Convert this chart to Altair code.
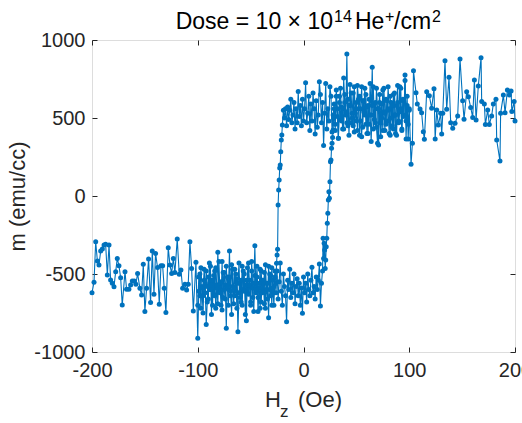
import altair as alt
import pandas as pd

BLUE = "#0072BD"
AX = "#262626"
FONT = "Liberation Sans"

# ---------------- data ----------------
# right sparse section (increasing field)
right_x = [101.7, 103.0, 104.0, 106.4, 107.6, 110.2, 111.7, 113.3, 114.3, 116.5,
           119.0, 121.2, 123.4, 124.5, 126.0, 127.5, 129.7, 130.7, 131.7, 133.8,
           135.4, 137.6, 139.2, 141.1, 143.3, 145.8, 148.0, 150.5, 151.8, 154.3,
           155.9, 158.1, 160.0, 161.6, 163.2, 165.3, 167.9, 168.5, 171.0, 172.0,
           174.2, 175.7, 177.9, 179.5, 182.0, 182.7, 185.8, 186.4, 189.0, 190.6,
           192.8, 194.7, 196.3, 197.0, 199.2, 200.0]
right_m = [203, 338, 803, 662, 590, 558, 534, 412, 363, 669,
           643, 562, 688, 365, 551, 455, 530, 397, 530, 867,
           556, 761, 470, 434, 466, 513, 878, 611, 492, 669,
           637, 568, 504, 744, 487, 705, 887, 605, 590, 459,
           551, 459, 513, 590, 620, 359, 224, 530, 647, 534,
           679, 647, 673, 541, 605, 480]

# descending branch, upper band, field 100 -> -19 Oe (1 Oe steps)
desc_upper_start = 100
desc_upper = [560, 365, 640, 480, 776, 520, 610, 430, 690, 540,
              470, 708, 580, 400, 520, 650, 450, 600, 390, 560,
              700, 480, 620, 420, 540, 680, 500, 380, 600, 327,
              560, 690, 470, 590, 430, 825, 520, 721, 460, 580,
              400, 650, 520, 610, 440, 700, 560, 390, 620, 708,
              480, 560, 410, 660, 530, 470, 714, 580, 450, 910,
              520, 600, 756, 430, 570, 490, 640, 370, 560, 680,
              460, 590, 520, 410, 640, 701, 480, 560, 430, 721,
              530, 323, 600, 470, 650, 733, 520, 440, 610, 397,
              560, 660, 480, 590, 420, 640, 530, 470, 726, 560,
              480, 620, 450, 580, 510, 670, 470, 560, 430, 600,
              520, 470, 620, 550, 490, 570, 450, 560, 500, 550]

# descending switching
desc_tr_x = [-20, -20.5, -21, -21.5, -22, -22.5, -23, -23.5, -24, -24.5, -25, -25.5, -26]
desc_tr_m = [455, 391, 359, 284, 199, 179, 103, 38, -58, -342, -378, -431, -560]

# descending branch, lower band, field -27 -> -100 Oe
desc_lower_start = -27
desc_lower = [-480, -620, -540, -700, -510, -600, -450, -660, -560, -720,
              -490, -610, -540, -680, -470, -590, -740, -520, -620, -319,
              -560, -650, -480, -700, -570, -430, -620, -540, -760, -500,
              -600, -450, -680, -560, -620, -870, -530, -610, -470, -690,
              -580, -440, -640, -353, -600, -520, -848, -570, -490, -650,
              -420, -700, -560, -610, -361, -590, -720, -480, -630, -540,
              -760, -450, -600, -520, -680, -823, -560, -470, -640, -580,
              -720, -500, -610, -912]

# left sparse section (increasing field)
left_x = [-200, -198.1, -196.5, -194.9, -193.4, -191.8, -190.2, -188.6, -187.1, -185.5,
          -183.9, -182.4, -180.8, -179.2, -177.6, -176.1, -174.5, -172.9, -171.4, -168.8,
          -167.3, -165.1, -163.5, -161.9, -160.0, -158.5, -156.9, -154.7, -153.1, -151.5,
          -150.0, -148.4, -146.5, -144.6, -143.0, -141.4, -139.9, -138.0, -136.4, -134.8,
          -133.2, -131.7, -130.1, -127.9, -126.3, -124.7, -123.1, -121.6, -119.4, -117.5,
          -115.9, -114.3, -112.1, -110.5, -109.0, -107.4, -105.8, -104.2, -101.7]
left_m = [-620, -553, -293, -417, -442, -353, -340, -314, -310, -506,
          -314, -539, -560, -581, -485, -400, -447, -524, -699, -485,
          -598, -598, -570, -545, -545, -566, -496, -592, -635, -438,
          -741, -592, -404, -682, -353, -630, -368, -459, -694, -447,
          -447, -592, -746, -331, -442, -496, -400, -491, -276, -502,
          -474, -592, -566, -603, -566, -293, -464, -737, -425]

# ascending branch, lower band, field -100 -> 17 Oe
asc_lower_start = -100
asc_lower = [-700, -520, -640, -460, -590, -750, -540, -620, -480, -580,
             -660, -430, -600, -540, -700, -510, -640, -460, -570, -690,
             -420, -620, -550, -730, -490, -600, -660, -450, -580, -700,
             -520, -610, -760, -470, -590, -640, -500, -720, -560, -430,
             -650, -540, -700, -480, -610, -570, -800, -460, -630, -540,
             -680, -420, -590, -740, -510, -600, -450, -650, -560, -720,
             -480, -620, -540, -690, -440, -600, -560, -780, -500, -640,
             -460, -590, -700, -520, -620, -480, -660, -550, -430, -610,
             -700, -500, -580, -640, -806, -540, -600, -470, -650, -560,
             -620, -500, -690, -580, -530, -640, -560, -700, -590, -752,
             -520, -620, -560, -680, -500, -600, -640, -540, -457, -620,
             -580, -660, -520, -600, -540, -436, -705, -560]

# ascending switching
asc_tr_x = [18, 18.5, 19, 19.5, 20, 20.5, 21, 21.5, 22, 22.5, 23, 23.5,
            24, 24.5, 25, 25.5, 26, 26.5, 27, 27.5, 28, 28.5]
asc_tr_m = [-480, -271, -400, -303, -346, -464, -410, -325, -271, -175, -111, -26,
            28, -15, 92, 220, 231, 306, 338, 375, 423, 500]

# ascending branch, upper band, field 29 -> 100 Oe
asc_upper_start = 29
asc_upper = [560, 420, 640, 510, 370, 600, 690, 480, 560, 430,
             650, 540, 470, 620, 390, 580, 660, 500, 450, 700,
             530, 600, 420, 560, 640, 480, 380, 610, 540, 690,
             460, 570, 400, 620, 520, 350, 580, 700, 490, 600,
             440, 338, 560, 650, 470, 590, 420, 690, 530, 460,
             610, 550, 400, 640, 500, 580, 430, 660, 520, 390,
             600, 480, 700, 560, 420, 620, 510, 740, 365, 580,
             460, 550]

x_ticks = [-200, -100, 0, 100, 200]
y_ticks = [-1000, -500, 0, 500, 1000]

assert len(right_x) == len(right_m)
assert len(left_x) == len(left_m)
assert len(desc_tr_x) == len(desc_tr_m)
assert len(asc_tr_x) == len(asc_tr_m)

# ---------------- build table ----------------
rows = []


def add(branch, xs, ms):
    for xv, mv in zip(xs, ms):
        rows.append({"H": xv, "m": mv, "branch": branch, "i": len(rows)})


add("down", list(reversed(right_x)), list(reversed(right_m)))
add("down", [desc_upper_start - k for k in range(len(desc_upper))], desc_upper)
add("down", desc_tr_x, desc_tr_m)
add("down", [desc_lower_start - k for k in range(len(desc_lower))], desc_lower)
add("down", list(reversed(left_x)), list(reversed(left_m)))
add("up", [asc_lower_start + k for k in range(len(asc_lower))], asc_lower)
add("up", asc_tr_x, asc_tr_m)
add("up", [asc_upper_start + k for k in range(len(asc_upper))], asc_upper)

df = pd.DataFrame(rows)

xs = alt.Scale(domain=[-200, 200], nice=False, zero=False)
ys = alt.Scale(domain=[-1000, 1000], nice=False, zero=False)

axis_common = dict(grid=False, domain=False, tickSize=5, offset=-5, tickColor=AX,
                   tickWidth=1, labelColor=AX, labelFont=FONT, labelFontSize=20,
                   labelOverlap=False, labelFlush=False,
                   labelExpr="'' + datum.value")

main = alt.Chart(df).mark_line(
    color=BLUE, strokeWidth=1.1,
    point=alt.OverlayMarkDef(filled=True, size=25, color=BLUE, opacity=1),
).encode(
    x=alt.X("H:Q", scale=xs,
            axis=alt.Axis(orient="bottom", values=x_ticks, title=None,
                          labelPadding=8, **axis_common)),
    y=alt.Y("m:Q", scale=ys,
            axis=alt.Axis(orient="left", values=y_ticks, title="m (emu/cc)",
                          labelPadding=7, titleFont=FONT, titleFontSize=22,
                          titleFontWeight="normal", titleColor=AX, titlePadding=4,
                          **axis_common)),
    detail="branch:N",
    order="i:Q",
)

mirror_common = dict(grid=False, domain=False, tickSize=5, offset=-5, tickColor=AX,
                     tickWidth=1, labels=False, title=None)
mirror = alt.Chart(df).mark_point(opacity=0).encode(
    x=alt.X("H:Q", scale=xs, axis=alt.Axis(orient="top", values=x_ticks, **mirror_common)),
    y=alt.Y("m:Q", scale=ys, axis=alt.Axis(orient="right", values=y_ticks, **mirror_common)),
)


def label(text, x, y, size, align="left", color="black"):
    return alt.Chart(pd.DataFrame({"t": [text]})).mark_text(
        align=align, baseline="alphabetic", font=FONT, fontSize=size, color=color
    ).encode(text="t:N", x=alt.value(x), y=alt.value(y))


title_parts = [
    label("Dose = 10 × 10", 241, -11, 23, align="right"),
    label("14", 242, -18, 16),
    label("He", 263, -11, 23),
    label("+", 293, -18, 16),
    label("/cm", 302, -11, 23),
    label("2", 340, -18, 16),
]
xtitle_parts = [
    label("H", 173, 367, 22, color=AX),
    label("z", 188, 377, 17, color=AX),
    label("(Oe)", 206, 367, 22, color=AX),
]

chart = alt.layer(main, mirror, *title_parts, *xtitle_parts).resolve_scale(
    x="independent", y="independent"
).properties(
    width=423, height=312,
    autosize="none",
    padding={"left": 92, "top": 40, "right": 7, "bottom": 71},
).configure_view(stroke=AX, strokeWidth=1).configure(background="white")

chart.save("out.html", embed_options={"renderer": "svg", "actions": False})
